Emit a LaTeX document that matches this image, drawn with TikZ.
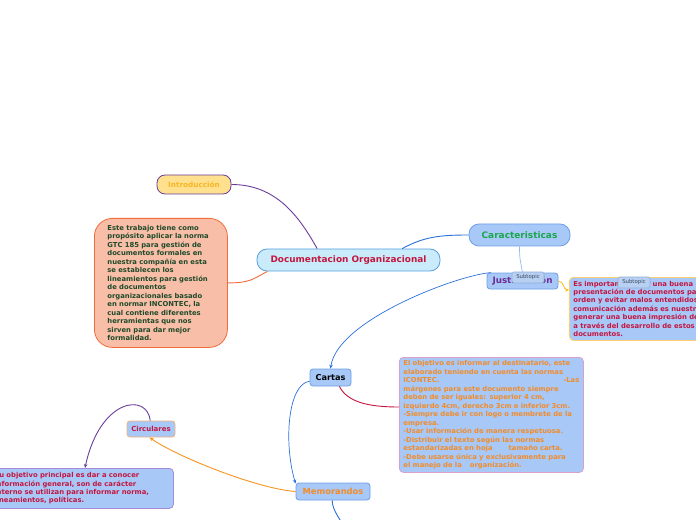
\documentclass[tikz,border=0pt]{standalone}
\usepackage{fontspec}
\setmainfont{DejaVu Sans}
\usepackage{xcolor}
\usepackage{tikz}
\usetikzlibrary{
	arrows.meta,
	positioning
}
\definecolor{nodeblue}{HTML}{A8C8F8}
\definecolor{nodeline}{HTML}{6E9EE6}
\definecolor{centerfill}{HTML}{C9EBFA}
\definecolor{centerline}{HTML}{5AA0DE}
\definecolor{crimson}{HTML}{C4163F}
\definecolor{introfill}{HTML}{FFE08F}
\definecolor{introtext}{HTML}{F5B724}
\definecolor{purpleline}{HTML}{6A3D9A}
\definecolor{salmonfill}{HTML}{F9BEA8}
\definecolor{salmonline}{HTML}{F26B3A}
\definecolor{darkgreen}{HTML}{1E4A2A}
\definecolor{greentext}{HTML}{1AA64A}
\definecolor{purpletext}{HTML}{6B2D91}
\definecolor{blueline}{HTML}{2A70D8}
\definecolor{lightblueline}{HTML}{92BAF0}
\definecolor{orangetext}{HTML}{F28C28}
\definecolor{orangeline}{HTML}{F7941D}
\definecolor{yellowline}{HTML}{F7BE2E}
\definecolor{pinkline}{HTML}{D9A0CC}
\definecolor{peachline}{HTML}{F2B27A}
\definecolor{lilacline}{HTML}{A48AD9}
\definecolor{subfill}{HTML}{B8D0F2}
\definecolor{subline}{HTML}{8FAED8}
\definecolor{subtext}{HTML}{3A4860}

\begin{document}
\begin{tikzpicture}[x=1bp,y=-1bp,
	topic/.style={draw=nodeline, fill=nodeblue, line width=0.8bp, rounded corners=3bp,
		inner sep=0pt, font=\fontsize{8.2}{9}\selectfont\bfseries},
	textbox/.style={draw=nodeline, fill=nodeblue, line width=0.8bp, rounded corners=4bp,
		anchor=north west, align=left, inner ysep=0pt,
		font=\fontsize{6.85}{8.5}\selectfont\bfseries},
	subtopic/.style={draw=subline, fill=subfill, line width=0.6bp, rounded corners=1.5bp,
		inner sep=0pt, minimum width=32bp, minimum height=11bp, text=subtext,
		font=\fontsize{5.4}{6}\selectfont},
	link/.style={line width=0.9bp},
	tip/.style={-{Stealth[length=4bp,width=3.5bp]}}
]
	\useasboundingbox (0,0) rectangle (696,520);
	\clip (0,0) rectangle (696,520);

	% main topic and first level
	\node[topic, draw=centerline, fill=centerfill, rounded corners=10bp, minimum width=183bp,
		minimum height=22bp, text=crimson, font=\fontsize{8.95}{10}\selectfont\bfseries]
		(doc) at (348.5,260) {Documentacion Organizacional};
	\node[topic, draw=purpleline, fill=introfill, rounded corners=8bp, minimum width=74bp,
		minimum height=19bp, text=introtext, font=\fontsize{7.3}{8}\selectfont\bfseries]
		(intro) at (194,184.5) {Introducción};
	\node[textbox, draw=salmonline, fill=salmonfill, rounded corners=18bp, text=darkgreen,
		inner xsep=13bp, text width=107bp, minimum height=129bp]
		(intext) at (94,218) {Este trabajo tiene como\\propósito aplicar la norma\\GTC 185 para gestión de\\documentos formales en\\nuestra compañía en esta\\se establecen los\\lineamientos para gestión\\de documentos\\organizacionales basado\\en normar INCONTEC, la\\cual contiene diferentes\\herramientas que nos\\sirven para dar mejor\\formalidad.};
	\node[topic, rounded corners=10bp, minimum width=101bp, minimum height=22bp,
		text=greentext, font=\fontsize{9}{10}\selectfont\bfseries]
		(carac) at (519.5,235) {Caracteristicas};

	% characteristics branch
	\node[topic, minimum width=71bp, minimum height=16bp, text=purpletext,
		font=\fontsize{8.8}{9}\selectfont\bfseries]
		(just) at (522.5,281) {Justificación};
	\node[textbox, draw=introfill!80!orange, text=crimson, inner xsep=4bp, text width=142bp,
		minimum height=63bp]
		(justext) at (569,277) {Es importante tener una buena\\presentación de documentos para\\orden y evitar malos entendidos\\comunicación además es nuestro\\generar una buena impresión de\\a través del desarrollo de estos\\documentos.};
	\node[topic, minimum width=41bp, minimum height=17bp, text=black]
		(cartas) at (330.5,377.5) {Cartas};
	\node[textbox, draw=pinkline, text=orangetext, inner xsep=4bp, text width=176bp,
		minimum height=115bp]
		(cartext) at (399,357) {El objetivo es informar al destinatario, este\\elaborado teniendo en cuenta las normas\\ICONTEC.\hfill-Las\\márgenes para este documento siempre\\deben de ser iguales: superior 4 cm,\\izquierdo 4cm, derecho 3cm e inferior 3cm.\\-Siempre debe ir con logo o membrete de la\\empresa.\\-Usar información de manera respetuosa.\\-Distribuir el texto según las normas\\estandarizadas en hoja\hspace{16bp}tamaño carta.\\-Debe usarse única y exclusivamente para\\el manejo de la\hspace{8bp}organización.};
	\node[topic, minimum width=74bp, minimum height=17bp, text=orangetext,
		font=\fontsize{8.4}{9}\selectfont\bfseries]
		(memo) at (333,491.5) {Memorandos};
	\node[topic, draw=peachline, minimum width=48bp, minimum height=16bp, text=crimson,
		font=\fontsize{7}{8}\selectfont\bfseries]
		(circ) at (151,429) {Circulares};
	\node[textbox, draw=lilacline, text=crimson, inner xsep=4bp, text width=175bp,
		minimum height=40bp]
		(circtext) at (-10,468) {Su objetivo principal es dar a conocer\\información general, son de carácter\\interno se utilizan para informar norma,\\lineamientos, políticas.};
	\coordinate (memoend) at (343,526);

	% connectors
	\draw[link, purpleline] (doc.160) .. controls +(-18,-32) and +(45,0) .. (intro.east);
	\draw[link, salmonline] (doc.188) .. controls +(-15,8) and +(22,0) .. (intext.east);
	\draw[link, blueline] (doc.12) .. controls +(22,-12) and +(-28,0) .. (carac.west);
	\draw[link, lightblueline, line width=0.7bp] (carac.south) .. controls +(0,14) and +(-2,-12) .. (just.north);
	\draw[link, blueline, line width=0.7bp, tip] (just.165) .. controls +(-32,2) and +(7,-49) .. (cartas.north);
	\draw[link, yellowline, tip] (just.east) .. controls +(5,0) and +(-5,0) .. (justext.west |- 0,290);
	\draw[link, crimson] (cartas.-45) .. controls +(8,16) and +(-30,0) .. (cartext.west |- 0,407);
	\draw[link, blueline, line width=0.7bp, tip] (cartas.190) .. controls +(-22,3) and +(-12,-40) .. (memo.168);
	\draw[link, orangeline, tip] (memo.west) .. controls +(-40,-3) and +(25,18) .. (circ.-100);
	\draw[link, purpleline, tip] (circ.95) .. controls +(-3,-28) and +(15,-70) .. (circtext.north -| 85,0);
	\draw[link, blueline] (memo.-95) .. controls +(0,10) and +(-3,-8) .. (memoend);

	% subtopic labels on top
	\node[subtopic] (sub1) at (528,277.5) {Subtopic};
	\node[subtopic] (sub2) at (634,282.5) {Subtopic};
\end{tikzpicture}
\end{document}
